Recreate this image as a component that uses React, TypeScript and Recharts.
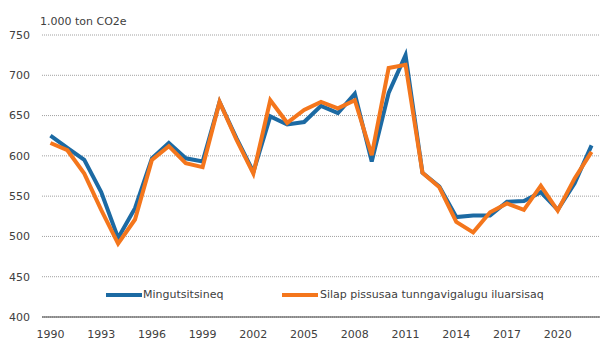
import React from "react";
import { LineChart, Line, XAxis, YAxis, CartesianGrid } from "recharts";

const years = [
    1990, 1991, 1992, 1993, 1994, 1995, 1996, 1997, 1998, 1999, 2000, 2001,
    2002, 2003, 2004, 2005, 2006, 2007, 2008, 2009, 2010, 2011, 2012, 2013,
    2014, 2015, 2016, 2017, 2018, 2019, 2020, 2021, 2022
];

const mingutsitsineq = [
    625, 610, 595, 555, 498, 535, 597, 616, 597, 593, 667, 622,
    580, 649, 639, 642, 662, 653, 677, 593, 678, 725, 579, 562,
    524, 526, 526, 543, 544, 555, 533, 566, 613
];

const silapPissusaa = [
    616, 607, 578, 533, 491, 521, 595, 612, 591, 586, 667, 620,
    578, 669, 641, 657, 667, 659, 669, 601, 709, 713, 579, 561,
    518, 505, 530, 541, 533, 563, 532, 572, 605
];

const yTicks = [400, 450, 500, 550, 600, 650, 700, 750];

const seriesNames = ["Mingutsitsineq", "Silap pissusaa tunngavigalugu iluarsisaq"];
const BLUE = "#1C6AA3";
const ORANGE = "#F4761C";
const FONT = "'DejaVu Sans', sans-serif";

const data = years.map((year, i) => ({
    year: String(year),
    blue: mingutsitsineq[i],
    orange: silapPissusaa[i]
}));

/** Legend drawn inside the plot, like the original */
const ChartLegend = () => (
    <div
        style={{
            position: "absolute",
            left: 106,
            top: 288,
            width: 460,
            height: 14,
            fontFamily: FONT,
            fontSize: 11,
            color: "#404040"
        }}
    >
        <div style={{ position: "absolute", left: 0, top: 5, width: 36, height: 4, background: BLUE }} />
        <span style={{ position: "absolute", left: 37, top: 0, whiteSpace: "nowrap" }}>{seriesNames[0]}</span>
        <div style={{ position: "absolute", left: 176, top: 5, width: 36, height: 4, background: ORANGE }} />
        <span style={{ position: "absolute", left: 214, top: 0, whiteSpace: "nowrap" }}>{seriesNames[1]}</span>
    </div>
);

export default function App() {
    return (
        <div style={{ position: "absolute", left: 0, top: 0, width: 614, height: 345, background: "#fff" }}>
            <LineChart
                width={614}
                height={345}
                data={data}
                margin={{ top: 35, right: 14, bottom: 0, left: 0 }}
            >
                <CartesianGrid vertical={false} stroke="#A0A0A0" strokeDasharray="1 1" />
                <XAxis
                    dataKey="year"
                    scale="band"
                    interval={2}
                    height={28}
                    tickSize={0}
                    tickMargin={13}
                    axisLine={{ stroke: "#404040", strokeWidth: 1.2 }}
                    tick={{ fontFamily: FONT, fontSize: 11, fill: "#404040" }}
                />
                <YAxis
                    domain={[400, 750]}
                    ticks={yTicks}
                    width={42}
                    axisLine={false}
                    tickLine={false}
                    tickSize={0}
                    tickMargin={12}
                    tick={{ fontFamily: FONT, fontSize: 11, fill: "#404040" }}
                />
                <Line
                    type="linear"
                    dataKey="blue"
                    name={seriesNames[0]}
                    stroke={BLUE}
                    strokeWidth={4}
                    dot={false}
                    isAnimationActive={false}
                />
                <Line
                    type="linear"
                    dataKey="orange"
                    name={seriesNames[1]}
                    stroke={ORANGE}
                    strokeWidth={4}
                    dot={false}
                    isAnimationActive={false}
                />
            </LineChart>
            <div
                style={{
                    position: "absolute",
                    left: 40,
                    top: 15,
                    fontFamily: FONT,
                    fontSize: 11,
                    color: "#404040",
                    whiteSpace: "nowrap"
                }}
            >
                1.000 ton CO2e
            </div>
            <ChartLegend />
        </div>
    );
}
